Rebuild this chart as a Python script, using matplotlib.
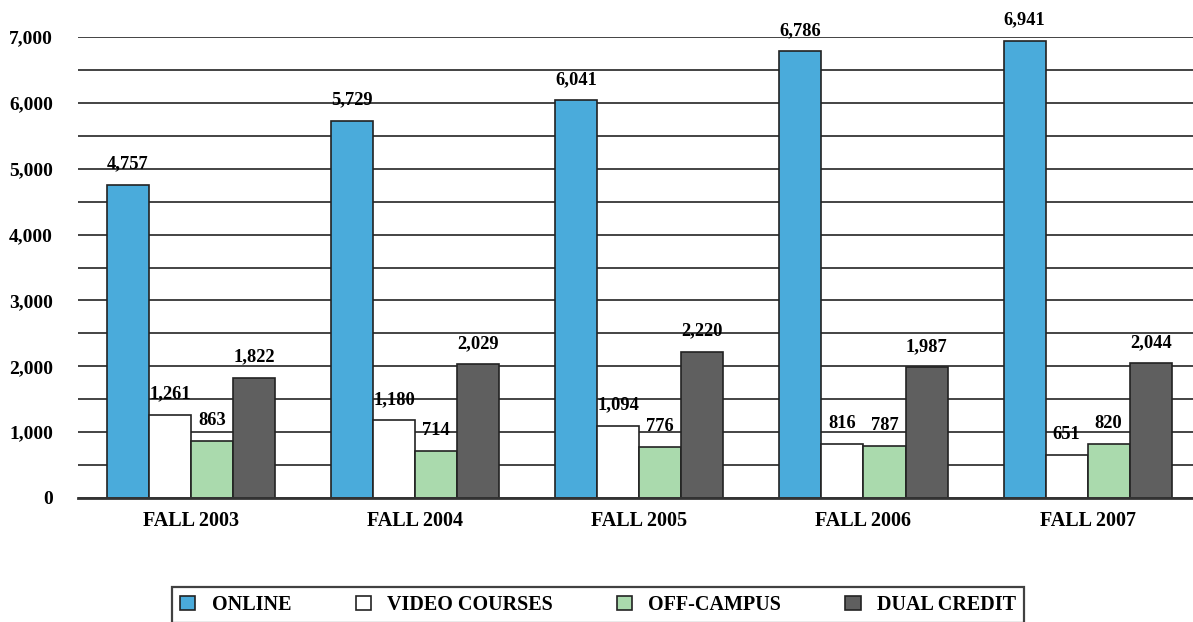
import numpy as np
import matplotlib.pyplot as plt
from matplotlib.ticker import FuncFormatter, MultipleLocator

# Enrollment by delivery method, fall terms
terms = ['FALL 2003', 'FALL 2004', 'FALL 2005', 'FALL 2006', 'FALL 2007']
online = [4757, 5729, 6041, 6786, 6941]
video = [1261, 1180, 1094, 816, 651]
off_campus = [863, 714, 776, 787, 820]
dual_credit = [1822, 2029, 2220, 1987, 2044]

series = [
    ('ONLINE', online, '#4aabdb'),
    ('VIDEO COURSES', video, '#ffffff'),
    ('OFF-CAMPUS', off_campus, '#aadaad'),
    ('DUAL CREDIT', dual_credit, '#5f5f5f'),
]

plt.rcParams['font.family'] = ['Liberation Serif', 'DejaVu Serif']
plt.rcParams['font.weight'] = 'bold'

fig = plt.figure(figsize=(11.93, 6.22), dpi=100)
ax = fig.add_axes([78 / 1193, 1 - 498 / 622, 1 - 78 / 1193, (498 - 37) / 622])

x = np.arange(len(terms))
width = 0.1875
offsets = (np.arange(len(series)) - 1.5) * width

for (name, vals, color), off in zip(series, offsets):
    bars = ax.bar(x + off, vals, width, color=color, edgecolor='#222222',
                  linewidth=1.2, label=name, zorder=3)
    for b, v in zip(bars, vals):
        ax.annotate(f'{v:,}', (b.get_x() + b.get_width() / 2, v),
                    xytext=(0, 15), textcoords='offset points',
                    ha='center', va='center', fontsize=13.3, fontweight='bold',
                    zorder=4)

ax.set_ylim(0, 7000)
ax.set_xlim(-0.504, 4.47)
ax.yaxis.set_major_locator(MultipleLocator(1000))
ax.yaxis.set_minor_locator(MultipleLocator(500))
ax.yaxis.set_major_formatter(FuncFormatter(lambda v, _: f'{int(v):,}'))
ax.grid(axis='y', which='both', color='#111111', linewidth=1.1, zorder=0)

ax.set_xticks(x)
ax.set_xticklabels(terms, fontsize=14.5, fontweight='bold')
ax.tick_params(axis='y', which='both', length=0, pad=18, labelsize=14)
ax.tick_params(axis='x', length=0, pad=9)
for lbl in ax.get_yticklabels():
    lbl.set_fontweight('bold')

for side in ['top', 'right', 'left']:
    ax.spines[side].set_visible(False)
ax.spines['bottom'].set_color('#333333')
ax.spines['bottom'].set_linewidth(2)
ax.spines['bottom'].set_zorder(5)

leg = fig.legend(loc='upper center', bbox_to_anchor=(598 / 1193, 1 - 587 / 622),
                 ncol=4, frameon=True, fancybox=False, fontsize=14.5,
                 handlelength=0.75, handleheight=0.75, columnspacing=3.2,
                 borderpad=0.4, borderaxespad=0, handletextpad=0.8)
leg.get_frame().set_edgecolor('#111111')
leg.get_frame().set_linewidth(1.6)
for t in leg.get_texts():
    t.set_fontweight('bold')

fig.savefig('out.png', dpi=100)
